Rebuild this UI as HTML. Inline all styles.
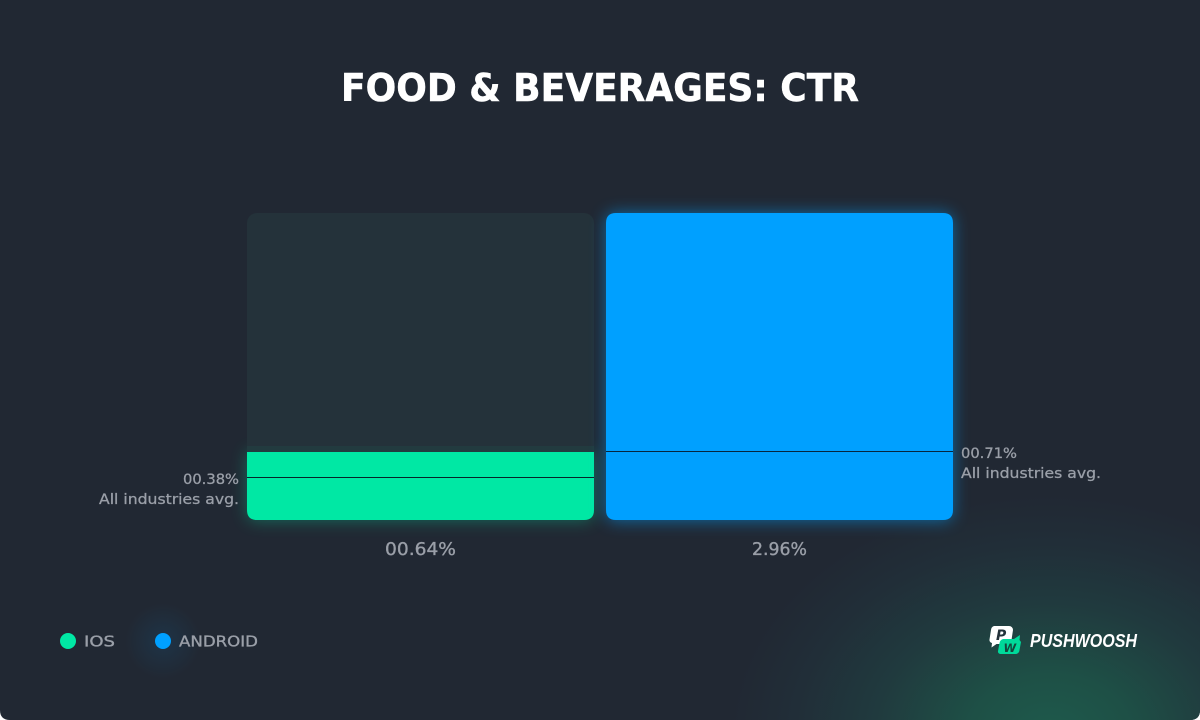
<!DOCTYPE html>
<html lang="en">
<head>
<meta charset="utf-8">
<title>Food &amp; Beverages: CTR</title>
<style>
html,body{margin:0;padding:0;background:#fff;width:1200px;height:720px;overflow:hidden}
svg{display:block}
text{font-family:"DejaVu Sans","Liberation Sans",sans-serif}
</style>
</head>
<body>
<svg id="chart" width="1200" height="720" viewBox="0 0 1200 720" xmlns="http://www.w3.org/2000/svg">
  <defs>
    <radialGradient id="corner-glow" gradientUnits="userSpaceOnUse" cx="0" cy="0" r="1" gradientTransform="translate(1050 735) scale(320 240)">
      <stop offset="0" stop-color="#1e5a4c"/>
      <stop offset="0.25" stop-color="#1e5046"/>
      <stop offset="0.55" stop-color="#203a3e"/>
      <stop offset="0.8" stop-color="#212e38"/>
      <stop offset="1" stop-color="#212833"/>
    </radialGradient>
    <radialGradient id="legend-glow" gradientUnits="userSpaceOnUse" cx="163" cy="641" r="38">
      <stop offset="0" stop-color="#00a0ff" stop-opacity="0.1"/>
      <stop offset="1" stop-color="#00a0ff" stop-opacity="0"/>
    </radialGradient>
    <filter id="glow-soft" x="-20%" y="-30%" width="140%" height="160%"><feGaussianBlur stdDeviation="8"/></filter>
    <clipPath id="card-clip"><path d="M0 0H1200V710Q1200 720 1190 720H10Q0 720 0 710Z"/></clipPath>
  </defs>
  <g clip-path="url(#card-clip)">
    <rect width="1200" height="720" fill="#212833"/>
    <rect x="700" y="480" width="500" height="240" fill="url(#corner-glow)"/>
    <rect x="120" y="600" width="86" height="82" fill="url(#legend-glow)"/>
  </g>
  <text x="600" y="101" text-anchor="middle" font-size="38" font-weight="700" fill="#ffffff" stroke="#ffffff" stroke-width="0.5" textLength="518" lengthAdjust="spacingAndGlyphs">FOOD &amp; BEVERAGES: CTR</text>
  <g id="plot"></g>

  <g>
    <g>
      <circle cx="68" cy="641" r="8" fill="#00e8a4"/>
      <text x="84" y="646.5" font-size="15" fill="#9a9fa8" stroke="#9a9fa8" stroke-width="0.35" textLength="31" lengthAdjust="spacingAndGlyphs">IOS</text>
    </g>
    <g>
      <circle cx="163" cy="641" r="8" fill="#00a0ff"/>
      <text x="179" y="646.5" font-size="15" fill="#9a9fa8" stroke="#9a9fa8" stroke-width="0.35" textLength="79" lengthAdjust="spacingAndGlyphs">ANDROID</text>
    </g>
  </g>

  <g>
    <path d="M994 626h15a4 4 0 0 1 4 4l-1.500 10a5 5 0 0 1-5 4h-10l-5 3.500 0.500-4.500a3 3 0 0 1-2.500-3.500l1.500-9.500a4.500 4.500 0 0 1 3-4z" fill="#ffffff"/>
    <text x="996" y="640" font-size="14" font-weight="700" font-style="italic" fill="#24323a">P</text>
    <path d="M1003 639h11l6-4-0.500 5 1.500 2-1.500 8a4 4 0 0 1-4 4h-15a2.500 2.500 0 0 1-2.500-3l1.500-8a5 5 0 0 1 3.500-4z" fill="#00d99a"/>
    <text x="1003.500" y="652" font-size="11.500" font-weight="700" font-style="italic" fill="#14463d">W</text>
    <text x="1030" y="647" font-size="18" font-weight="700" font-style="italic" fill="#ffffff" style="font-family:'Liberation Sans',sans-serif" textLength="107" lengthAdjust="spacingAndGlyphs">PUSHWOOSH</text>
  </g>
</svg>
<script>
const categories = ["iOS", "Android"];
const seriesValues = [0.656, 2.96];
const averageValues = [0.415, 0.665];
const valueLabels = ["00.64%", "2.96%"];
const averageLabels = ["00.38%", "00.71%"];
const averageCaption = "All industries avg.";
const axisMax = 2.96;

const SVG_NS = "http://www.w3.org/2000/svg";
const plot = document.getElementById("plot");
const plotTop = 213;
const plotBottom = 520;
const bandLeft = 247;
const bandWidth = 347;
const bandStep = 359;
const barStyle = {
  ios: { fill: "#00e8a4", line: "#06262a", glow: 0.34, labelWidth: 71 },
  android: { fill: "#00a0ff", line: "#06263f", glow: 0.55, labelWidth: 55 }
};

function yScale(v) {
  return plotBottom - (v / axisMax) * (plotBottom - plotTop);
}
function xScale(i) {
  return bandLeft + i * bandStep;
}
function barPath(x, y, w, b, rTop, rBottom) {
  return "M" + (x + rTop) + " " + y +
    "H" + (x + w - rTop) +
    "Q" + (x + w) + " " + y + " " + (x + w) + " " + (y + rTop) +
    "V" + (b - rBottom) +
    "Q" + (x + w) + " " + b + " " + (x + w - rBottom) + " " + b +
    "H" + (x + rBottom) +
    "Q" + x + " " + b + " " + x + " " + (b - rBottom) +
    "V" + (y + rTop) +
    "Q" + x + " " + y + " " + (x + rTop) + " " + y + "Z";
}
function make(tag, attrs, text) {
  const el = document.createElementNS(SVG_NS, tag);
  Object.keys(attrs).forEach(function (k) { el.setAttribute(k, attrs[k]); });
  if (text !== undefined) el.textContent = text;
  plot.appendChild(el);
  return el;
}

categories.forEach(function (name, i) {
  const key = name.toLowerCase();
  const style = barStyle[key];
  const x = xScale(i);
  const yBar = yScale(seriesValues[i]);
  const yAvg = yScale(averageValues[i]);
  const isFull = seriesValues[i] >= axisMax;
  const rTop = isFull ? 10 : 0;

  const glow = make("path", { d: barPath(x, yBar, bandWidth, plotBottom + 1, rTop, 10), fill: style.fill, opacity: style.glow, filter: "url(#glow-soft)" });
  
  

  if (!isFull) {
    const track = make("rect", { x: x, y: plotTop, width: bandWidth, height: plotBottom - plotTop, rx: 10, fill: "#24323a" });
    
    
    const innerGlow = make("path", { d: barPath(x, yBar - 6, bandWidth, yBar, 0, 0), fill: style.fill, opacity: 0.05 });
    
    
  }

  const bar = make("path", { d: barPath(x, yBar, bandWidth, plotBottom, rTop, 10), fill: style.fill });
  
  

  const avg = make("rect", { x: x, y: Math.round(yAvg), width: bandWidth, height: 1, fill: style.line, "shape-rendering": "crispEdges" });
  
  

  const valueLabel = make("text", { x: x + bandWidth / 2, y: 555, "text-anchor": "middle", "font-size": 17.5, fill: "#9a9fa8", stroke: "#9a9fa8", "stroke-width": 0.35, textLength: style.labelWidth, lengthAdjust: "spacingAndGlyphs" }, valueLabels[i]);
  
  

  const onLeft = i === 0;
  const labelX = onLeft ? x - 8 : x + bandWidth + 8;
  const anchor = onLeft ? "end" : "start";

  const avgValue = make("text", { x: labelX, y: yAvg + 7, "text-anchor": anchor, "font-size": 14.5, fill: "#9a9fa8", stroke: "#9a9fa8", "stroke-width": 0.3, textLength: 56, lengthAdjust: "spacingAndGlyphs" }, averageLabels[i]);
  
  

  const avgCaption = make("text", { x: labelX, y: yAvg + 27, "text-anchor": anchor, "font-size": 14.5, fill: "#9a9fa8", stroke: "#9a9fa8", "stroke-width": 0.3, textLength: 140, lengthAdjust: "spacingAndGlyphs" }, averageCaption);
  
  
});
</script>
</body>
</html>
